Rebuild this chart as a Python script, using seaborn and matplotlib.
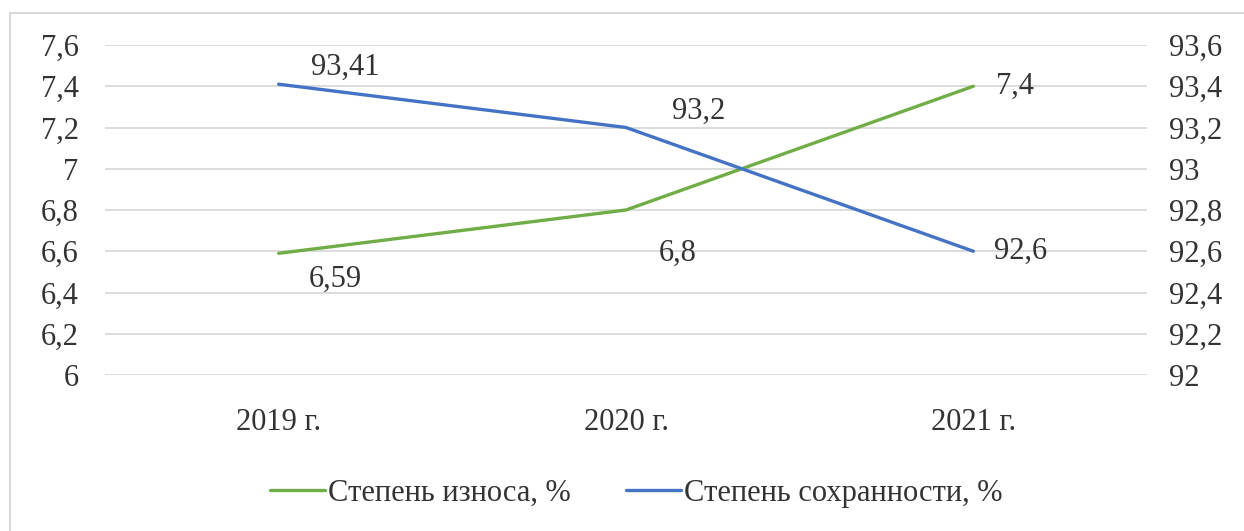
import matplotlib
matplotlib.use("Agg")
import matplotlib.pyplot as plt
from matplotlib.patches import Rectangle
import pandas as pd
import seaborn as sns

years = ["2019 г.", "2020 г.", "2021 г."]
wear = [6.59, 6.8, 7.4]
preservation = [93.41, 93.2, 92.6]
wear_labels = ["6,59", "6,8", "7,4"]
pres_labels = ["93,41", "93,2", "92,6"]
left_ticks = [6, 6.2, 6.4, 6.6, 6.8, 7, 7.2, 7.4, 7.6]
right_ticks = [92, 92.2, 92.4, 92.6, 92.8, 93, 93.2, 93.4, 93.6]
name_wear = "Степень износа, %"
name_pres = "Степень сохранности, %"

green = "#70ad47"
blue = "#4472c4"
txt = "#333333"
grid = "#d9d9d9"
fs = 22

sns.set_style("white")
plt.rcParams['font.family'] = ['Liberation Serif', 'DejaVu Serif']

df = pd.DataFrame({"year": years, "wear": wear, "pres": preservation})

fig = plt.figure(figsize=(12.44, 5.31), dpi=100)
fig.patches.append(Rectangle((10 / 1244, -0.1), 1.2, 1 - 13 / 531 + 0.1,
                             transform=fig.transFigure, fill=False,
                             edgecolor="#d0d0d0", linewidth=1.2))
ax = fig.add_axes([105 / 1244, 1 - 375 / 531, (1147 - 105) / 1244, 330 / 531])
ax2 = ax.twinx()

x = list(range(len(years)))
sns.lineplot(x=x, y=df["wear"], ax=ax, color=green, linewidth=2.4, label=name_wear, legend=False)
sns.lineplot(x=x, y=df["pres"], ax=ax2, color=blue, linewidth=2.4, label=name_pres, legend=False)

ax.set_xlim(-0.5, 2.5)
ax.set_ylim(6, 7.6)
ax2.set_ylim(92, 93.6)
ax.set_yticks(left_ticks)
ax.set_yticklabels([str(t).replace(".", ",") for t in left_ticks])
ax2.set_yticks(right_ticks)
ax2.set_yticklabels([str(t).replace(".", ",") for t in right_ticks])
ax.set_xticks(x)
ax.set_xticklabels(years)

for a in (ax, ax2):
    for s in a.spines.values():
        s.set_visible(False)
    a.set_xlabel("")
    a.set_ylabel("")
ax.yaxis.grid(True, color=grid, linewidth=1.3)
ax.set_axisbelow(True)
ax.tick_params(axis="y", length=0, pad=19, labelsize=fs, colors=txt)
ax.tick_params(axis="x", length=0, pad=24, labelsize=fs, colors=txt)
ax2.tick_params(axis="y", length=0, pad=16, labelsize=fs, colors=txt)

wear_offsets = [(41, -19), (37, -31), (16, 0)]
pres_offsets = [(48, 12), (52, 12), (15, 0)]
for i in x:
    dx, dy = wear_offsets[i]
    ax.annotate(wear_labels[i], (i, wear[i]), xytext=(dx, dy), textcoords="offset points",
                ha="center" if i < 2 else "left", va="center", fontsize=fs, color=txt)
    dx, dy = pres_offsets[i]
    ax2.annotate(pres_labels[i], (i, preservation[i]), xytext=(dx, dy), textcoords="offset points",
                 ha="center" if i < 2 else "left", va="center", fontsize=fs, color=txt)

h1, l1 = ax.get_legend_handles_labels()
h2, l2 = ax2.get_legend_handles_labels()
fig.legend(h1 + h2, l1 + l2, loc="center", bbox_to_anchor=(636 / 1244, 1 - 493 / 531),
           ncol=2, frameon=False, fontsize=fs, handlelength=1.8, handletextpad=0.1,
           columnspacing=1.8, labelcolor=txt)

fig.savefig("out.png", dpi=100, facecolor="white")
